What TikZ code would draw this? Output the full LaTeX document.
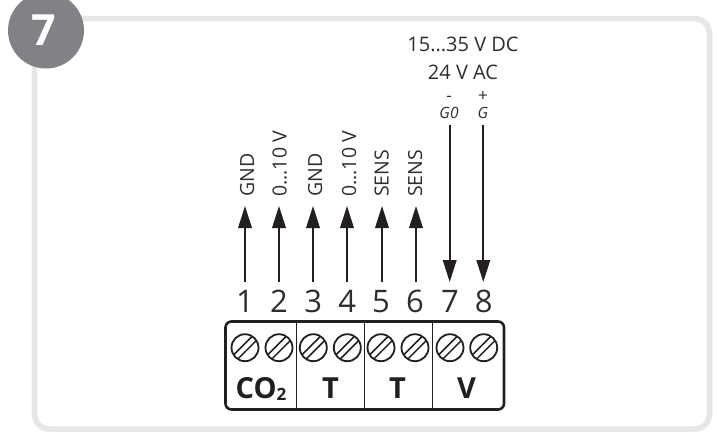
\documentclass[tikz,border=0pt]{standalone}
\usepackage{fontspec}
\setmainfont{Open Sans}
\usetikzlibrary{arrows.meta,calc}
\definecolor{framegray}{HTML}{E6E7E8}
\definecolor{badgegray}{HTML}{808285}
\definecolor{ink}{HTML}{231F20}
\definecolor{txt}{HTML}{2E2E30}
\newcommand{\tenvolt}{0...10 V}
\tikzset{
  frame/.style={draw=framegray,line width=5.5pt,rounded corners=15pt},
  badge/.style={circle,fill=badgegray,minimum size=76pt,inner sep=0pt},
  box/.style={draw=ink,line width=2.6pt,rounded corners=6pt},
  divider/.style={draw=ink,line width=1.4pt},
  screw/.style={circle,draw=ink,line width=1.8pt,minimum size=27pt,inner sep=0pt},
  slot/.style={draw=ink,line width=1.5pt},
  wire/.style={draw=ink,line width=2.1pt,-{Triangle[length=22pt,width=13.5pt]}},
  num/.style={anchor=base,text=txt,inner sep=0pt,font=\fontsize{31}{31}\selectfont},
  term/.style={anchor=base,text=ink,inner sep=0pt,font=\bfseries\fontsize{29}{29}\selectfont},
  sig/.style={anchor=base west,rotate=90,text=txt,inner sep=0pt,font=\fontsize{19.5}{19.5}\selectfont},
  head/.style={anchor=base,text=txt,inner sep=0pt,font=\fontsize{20}{20}\selectfont},
  pol/.style={anchor=base,text=txt,inner sep=0pt,font=\fontsize{17}{17}\selectfont},
  poli/.style={anchor=base,text=txt,inner sep=0pt,font=\itshape\fontsize{15.5}{15.5}\selectfont},
}
\begin{document}
\begin{tikzpicture}[x=1pt,y=-1pt]
\useasboundingbox (0,0) rectangle (717,439);
\fill[white] (0,0) rectangle (717,439);
\draw[frame] (34.5,18.5) rectangle (709.5,429);
\node[badge] (badge) at (46,30.5) {};
\node[anchor=base,text=white,inner sep=0pt,font=\bfseries\fontsize{43}{43}\selectfont] (badgetxt) at (44,45) {7};
% terminal block
\draw[box] (225.5,321.5) rectangle (504,409.5);
\foreach \x in {296.3,364.3,432.7}
  \draw[divider] (\x,321.5) -- (\x,409.5);
\foreach \x/\n in {245/1,279/2,313.3/3,347.3/4,381/5,415/6,450/7,483.7/8}{
  \node[screw] (s\n) at (\x,347.7) {};
  \draw[slot] ($(s\n)+(-10.8,6.6)$) -- ($(s\n)+(6.6,-10.8)$);
  \draw[slot] ($(s\n)+(-6.6,10.8)$) -- ($(s\n)+(10.8,-6.6)$);
  \node[num] (n\n) at (\x,312.7) {\n};
}
\node[term] (tco) at (261,398) {CO\raisebox{-2pt}{\fontsize{17}{17}\selectfont 2}};
\node[term] (t1) at (330.5,398) {T};
\node[term] (t2) at (397.5,398) {T};
\node[term] (tv) at (466.5,398) {V};
% wires
\foreach \x/\n/\l/\bx in {245/1/GND/254,279/2/\tenvolt/286.5,313/3/GND/322,347/4/\tenvolt/356,382/5/SENS/388.5,416/6/SENS/422}{
  \coordinate (b\n) at (\x,282);
  \coordinate (e\n) at (\x,206);
  \draw[wire] (b\n) -- (e\n);
  \node[sig] (l\n) at (\bx,197) {\l};
}
\foreach \x/\n in {449.7/7,483.3/8}{
  \coordinate (b\n) at (\x,125);
  \coordinate (e\n) at (\x,282);
  \draw[wire] (b\n) -- (e\n);
}
\node[head] (h1) at (463,51.7) {15...35 V DC};
\node[head] (h2) at (463,79) {24 V AC};
\node[pol] (m) at (449,101.5) {-};
\node[pol] (p) at (483,101.5) {+};
\node[poli] (g0) at (449,118) {G0};
\node[poli] (g) at (483,118) {G};
\end{tikzpicture}
\end{document}
